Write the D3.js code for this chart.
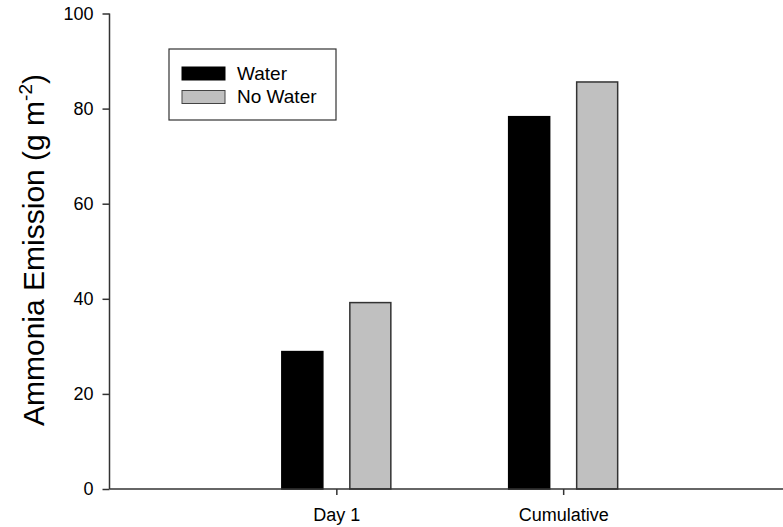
<!DOCTYPE html>
<html>
<head>
<meta charset="utf-8">
<script src="https://cdn.jsdelivr.net/npm/d3@7"></script>
<style>
  body { margin: 0; background: #fff; }
  text { font-family: "Liberation Sans", Arial, sans-serif; fill: #000; }
</style>
</head>
<body>
<svg width="783" height="527"></svg>
<script>
const categories = ['Day 1', 'Cumulative'];
const series = ['Water', 'No Water'];
const waterVals = [28.9, 78.3];
const noWaterVals = [39.2, 85.6];
const yTicks = [0, 20, 40, 60, 80, 100];

const svg = d3.select('svg');
const colours = d3.scaleOrdinal().domain(series).range(['#000000', '#c0c0c0']);

// category positions 1,2 on a 0..3 axis (SigmaPlot style)
const x = d3.scaleLinear().domain([0, 3]).range([109.5, 790]);
const y = d3.scaleLinear().domain([0, 100]).range([489, 13.5]);
const barW = 41, offset = 34;

const data = categories.flatMap((c, i) => [
  { cat: c, idx: i + 1, s: 'Water', v: waterVals[i], dx: -offset },
  { cat: c, idx: i + 1, s: 'No Water', v: noWaterVals[i], dx: offset }
]);

svg.selectAll('.bar').data(data).enter().append('rect')
  .attr('class', 'bar')
  .attr('x', d => x(d.idx) + d.dx - barW / 2)
  .attr('width', barW)
  .attr('y', d => y(d.v))
  .attr('height', d => y(0) - y(d.v))
  .attr('fill', d => colours(d.s))
  .attr('stroke', d => d.s === 'Water' ? '#000' : '#333')
  .attr('stroke-width', 1.5);

const fontFam = '"Liberation Sans", Arial, sans-serif';

// y axis
const yAxisG = svg.append('g').attr('transform', `translate(${x(0)},0)`)
  .call(d3.axisLeft(y).tickValues(yTicks).tickSize(7).tickPadding(9));
yAxisG.select('.domain').attr('d', `M0,${y(100)}V${y(0)}`);
yAxisG.selectAll('path, line').attr('stroke', '#333').attr('stroke-width', 1.5);
yAxisG.selectAll('text').style('font-size', '18px')
  .style('font-family', fontFam).attr('fill', '#000');

// x axis
const xAxisG = svg.append('g').attr('transform', `translate(0,${y(0)})`)
  .call(d3.axisBottom(x).tickValues([1, 2]).tickFormat((d, i) => categories[i]).tickSize(6).tickPadding(13));
xAxisG.select('.domain').attr('d', `M${x(0)},0H790`);
xAxisG.selectAll('path, line').attr('stroke', '#333').attr('stroke-width', 1.5);
xAxisG.selectAll('text').style('font-size', '18px')
  .style('font-family', fontFam).attr('fill', '#000');

// y title
const title = svg.append('text')
  .attr('transform', 'translate(44,250) rotate(-90)')
  .attr('text-anchor', 'middle')
  .style('font-size', '30px');
title.append('tspan').text('Ammonia Emission (g m');
title.append('tspan').text('-2').attr('dy', -12).style('font-size', '19px');
title.append('tspan').text(')').attr('dy', 12);

// legend
const legG = svg.append('g').attr('transform', 'translate(169,49)');
legG.append('rect').attr('width', 167).attr('height', 71)
  .attr('fill', '#fff').attr('stroke', '#333').attr('stroke-width', 1.2);
const items = legG.selectAll('.item').data(series).enter().append('g')
  .attr('class', 'item')
  .attr('transform', (d, i) => `translate(13,${18 + i * 23.5})`);
items.append('rect').attr('width', 43).attr('height', 13)
  .attr('fill', colours).attr('stroke', d => d === 'Water' ? '#000' : '#444').attr('stroke-width', 1);
items.append('text').attr('x', 55).attr('y', 12.5).style('font-size', '19px').text(d => d);
</script>
</body>
</html>
